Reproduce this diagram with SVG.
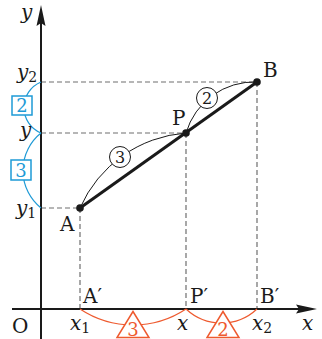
<svg xmlns="http://www.w3.org/2000/svg" width="322" height="339" viewBox="0 0 322 339">
<style>
.dash{stroke:#6e6e6e;stroke-width:1.2;stroke-dasharray:5 3;fill:none}
.axis{stroke:#1a1a1a;stroke-width:2;fill:none}
text{font-family:'DejaVu Serif',serif}
.lbl{font-size:20px;fill:#1a1a1a}
.it{font-style:italic}
.sub{font-size:14px;font-style:normal}
.blue{stroke:#1e9ad6;stroke-width:1.2;fill:none}
.bluebox{stroke:#1e9ad6;stroke-width:1.5;fill:#fff}
.bluet{font-size:18px;fill:#1e9ad6;text-anchor:middle}
.org{stroke:#ee5a2f;stroke-width:1.2;fill:none}
.orgtri{stroke:#ee5a2f;stroke-width:1.5;fill:#fff}
.orgt{font-size:18px;fill:#ee5a2f;text-anchor:middle}
.thin{stroke:#1a1a1a;stroke-width:1;fill:none}
.circ{stroke:#1a1a1a;stroke-width:1;fill:#fff}
.ct{font-size:16px;fill:#1a1a1a;text-anchor:middle}
</style>
<g id="guides">
<path class="dash" d="M41,82H257M41,133H186M41,208H80M80,208V309M186,133V309M257,82V309"/>
</g>
<g id="axes">
<path class="axis" d="M41,339V22"/>
<polygon points="41,5 45.5,26 41,23 36.5,26" fill="#1a1a1a"/>
<path class="axis" d="M12,309H300"/>
<polygon points="317,309 296,313.5 299,309 296,304.5" fill="#1a1a1a"/>
</g>
<g id="connectors">
<path class="blue" d="M41,82A27.6,27.6 0 0,0 41,133"/>
<path class="blue" d="M41,133A48,48 0 0,0 41,208"/>
<path class="org" d="M80,309A95.8,95.8 0 0,0 186,309"/>
<path class="org" d="M186,309A52,52 0 0,0 257,309"/>
<path class="thin" d="M80,208A126,126 0 0,1 186,133"/>
<path class="thin" d="M186,133A71,71 0 0,1 257,82"/>
<path stroke="#1a1a1a" stroke-width="3" d="M80,208L257,82"/>
</g>
<g id="node-A"><circle cx="80" cy="208" r="3.8" fill="#1a1a1a"/><text class="lbl" x="60" y="231">A</text></g>
<g id="node-P"><circle cx="186" cy="133" r="3.8" fill="#1a1a1a"/><text class="lbl" x="172" y="125">P</text></g>
<g id="node-B"><circle cx="257" cy="82" r="3.8" fill="#1a1a1a"/><text class="lbl" x="263" y="77">B</text></g>
<g id="ratio-AP"><circle class="circ" cx="120" cy="157" r="10.5"/><text class="ct" x="120" y="163">3</text></g>
<g id="ratio-PB"><circle class="circ" cx="207" cy="98" r="10.5"/><text class="ct" x="207" y="104">2</text></g>
<g id="box-2"><rect class="bluebox" x="12" y="96" width="20" height="19"/><text class="bluet" x="22" y="112">2</text></g>
<g id="box-3"><rect class="bluebox" x="11" y="160" width="20" height="20"/><text class="bluet" x="21" y="176.5">3</text></g>
<g id="tri-3"><polygon class="orgtri" points="133,311.5 117,337.5 149,337.5"/><text class="orgt" x="133" y="336">3</text></g>
<g id="tri-2"><polygon class="orgtri" points="223,311.5 207,337.5 239,337.5"/><text class="orgt" x="223" y="336">2</text></g>
<g id="labels">
<text class="lbl it" x="21" y="19">y</text>
<text class="lbl" x="17" y="79"><tspan class="it">y</tspan><tspan class="sub" dy="3">2</tspan></text>
<text class="lbl it" x="20" y="137">y</text>
<text class="lbl" x="16" y="215"><tspan class="it">y</tspan><tspan class="sub" dy="3">1</tspan></text>
<text class="lbl" x="83" y="303">A′</text>
<text class="lbl" x="190" y="303">P′</text>
<text class="lbl" x="260" y="303">B′</text>
<text class="lbl" x="12" y="333">O</text>
<text class="lbl" x="70" y="330"><tspan class="it">x</tspan><tspan class="sub" dy="3">1</tspan></text>
<text class="lbl it" x="177" y="330">x</text>
<text class="lbl" x="252" y="330"><tspan class="it">x</tspan><tspan class="sub" dy="3">2</tspan></text>
<text class="lbl it" x="302" y="330">x</text>
</g>
</svg>
